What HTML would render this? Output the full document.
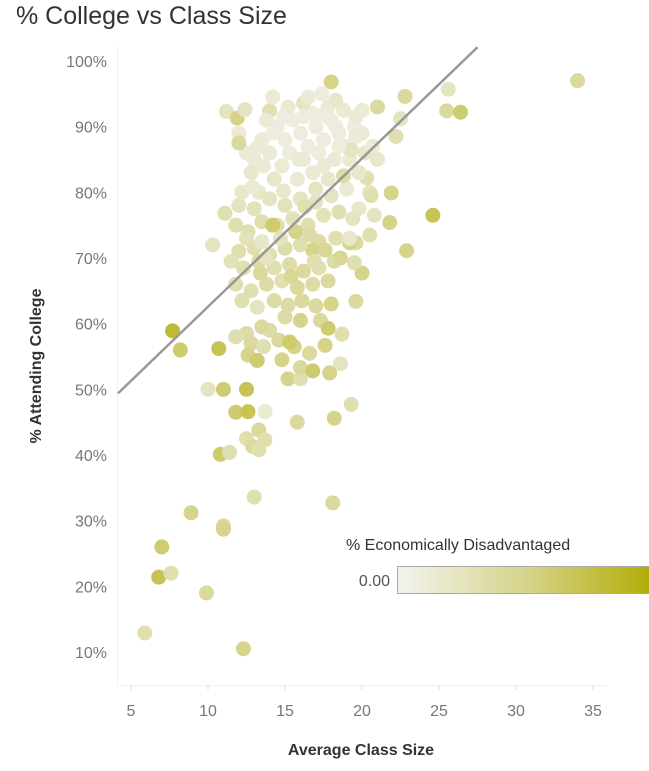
<!DOCTYPE html>
<html><head><meta charset="utf-8"><style>
body{margin:0;background:#fff;width:649px;height:766px;overflow:hidden;font-family:"Liberation Sans",sans-serif}
</style></head><body>
<svg id="chart" width="649" height="766" xmlns="http://www.w3.org/2000/svg">
<defs><linearGradient id="grad" x1="0" x2="1" y1="0" y2="0"><stop offset="0" stop-color="#f2f2ee"/><stop offset="0.5" stop-color="#d6d48a"/><stop offset="1" stop-color="#b0ab00"/></linearGradient></defs>
<text x="16" y="24" font-size="25" fill="#333">% College vs Class Size</text>
<line x1="117.5" y1="47" x2="117.5" y2="685" stroke="#eee" stroke-width="1"/>
<line x1="117" y1="685.5" x2="606" y2="685.5" stroke="#eee" stroke-width="1"/>
<g id="yticks"></g><g id="xticks"></g><g id="dots"></g><g id="trend"></g>
<text transform="translate(41,366) rotate(-90)" text-anchor="middle" font-size="16" font-weight="bold" fill="#333">% Attending College</text>
<text x="361" y="755" text-anchor="middle" font-size="16" font-weight="bold" fill="#333">Average Class Size</text>
<text x="346" y="550" font-size="16" fill="#333">% Economically Disadvantaged</text>
<text x="390" y="586" text-anchor="end" font-size="16" fill="#555">0.00</text>
<rect x="397.5" y="566.5" width="260" height="27" fill="url(#grad)" stroke="#aaa"/>
</svg>
<script>
const xTicks=[5,10,15,20,25,30,35];
const yTicks=[10,20,30,40,50,60,70,80,90,100];
const xs=[34.0,25.6,25.5,26.4,22.8,21,22.2,22.5,21.9,21.8,24.6,22.9,20.3,19.6,20.0,19.5,19.6,18.7,18.6,19.3,18.2,18.1,13.0,11.0,11.0,8.9,7.0,6.8,7.6,9.9,5.9,12.3,7.7,8.2,10.7,10.0,11.0,12.5,11.8,12.6,13.7,10.8,11.4,12.5,12.9,13.3,13.3,13.7,15.8,10.3,11.1,11.2,11.9,12.4,14.0,18.0,16.2,
14.5,15,15.5,16,16.5,17,17.5,18,18.5,19,19.5,14,14.8,15.3,16.2,17.2,18.2,19.2,13.5,13,12.8,16.8,17.8,16.5,18.8,19.6,20,20.2,19.8,15.8,16.8,17.8,14.3,13.3,12.2,12.5,12.0,13.8,15.2,14.2,17.4,12.0,13.2,20.5,20.8,19.8,19,18,17,16,15,14,13,12,11.8,12.6,13.5,14.5,15.5,16.5,17.5,18.5,19.4,20.5,19.2,18.3,17.2,16.8,16,15,14,13,12,11.5,12.3,13.3,14.3,15.3,16.2,17.2,18.2,17.8,16.8,15.8,14.8,13.8,12.8,11.8,12.2,13.2,14.3,15.2,16.1,17.0,18.0,17.3,16.0,15.0,14.0,13.5,12.5,11.8,12.8,13.6,14.6,15.6,16.6,17.6,17.8,12.6,13.2,14.8,15.2,16.0,16.0,15.3,16.8,17.9,13.5,14.7,15.7,14.2,12.5,16.3,17.0,18.8,19.3,20.6,19.2,18.6,17.6,16.6,13.8,13.4,15.4,16.9,14.9,12.9,13.6,15.9,17.5,18.5,19.6,20.7,21.0,20.0,18.3,14.9,16.2,17.4,14.2,18.3];
const ys=[97.0,95.7,92.4,92.2,94.6,93.0,88.5,91.2,79.9,75.4,76.5,71.1,82.2,72.3,67.7,69.3,63.4,58.4,53.9,47.7,45.6,32.7,33.6,29.2,28.7,31.2,26.0,21.4,22.0,19.0,12.9,10.5,58.9,56.0,56.2,50.0,50.0,50.0,46.5,46.6,46.6,40.1,40.4,42.5,41.3,40.8,43.8,42.3,45.0,72.0,76.8,92.3,91.3,92.6,92.4,96.8,93.6,
90,88,91,89,87,90,88,91,89,87,90,86,84,86,85,86,85,85,88,85,83,92,93,94.5,92.5,91.5,89,86,83,82,83,82,82,80,80,86,89,91,93,94.5,95,87.5,86.8,80,76.5,77.5,80.5,79.5,78.5,79,78,79,77.5,78,75,74,75.5,75,76,75,76.5,77,76,73.5,72.3,73,72.5,71.2,72,71.5,70.5,71.5,71,69.5,68.5,69.5,68.5,69,68,68.5,69.5,66.5,66,65.5,66.5,66,65,66,63.5,62.5,63.5,62.8,63.5,62.7,63.0,60.5,60.5,61,59,59.5,58.5,58,57,56.5,57.5,56.5,55.5,56.7,59.3,55.2,54.4,54.5,51.6,51.6,53.3,57.2,52.8,52.5,72.5,73,74,75,73,77.8,80.5,82.5,86.5,79.5,73,70.0,71.2,73.5,70.0,67.7,67.2,69.5,80.2,80.8,84,85,84,87,88.5,87,85,92.5,94,91.5,91.5,91.7,89,90];
const es=[0.4,0.2,0.4,0.6,0.4,0.4,0.3,0.2,0.5,0.5,0.7,0.5,0.3,0.4,0.5,0.3,0.4,0.3,0.2,0.3,0.5,0.4,0.3,0.4,0.5,0.5,0.6,0.7,0.3,0.4,0.3,0.5,0.8,0.6,0.7,0.2,0.6,0.7,0.6,0.7,0.1,0.6,0.3,0.3,0.4,0.3,0.4,0.3,0.4,0.2,0.3,0.2,0.5,0.2,0.3,0.5,0.2,
0.05,0.05,0.05,0.05,0.05,0.05,0.05,0.05,0.05,0.1,0.05,0.1,0.1,0.05,0.1,0.05,0.1,0.1,0.1,0.1,0.15,0.05,0.1,0.1,0.1,0.1,0.1,0.15,0.15,0.1,0.1,0.15,0.15,0.15,0.15,0.1,0.1,0.1,0.1,0.1,0.05,0.4,0.1,0.2,0.2,0.15,0.1,0.2,0.2,0.2,0.25,0.2,0.25,0.2,0.3,0.3,0.3,0.3,0.25,0.3,0.25,0.3,0.2,0.3,0.5,0.3,0.35,0.5,0.3,0.35,0.3,0.3,0.3,0.25,0.3,0.35,0.3,0.35,0.4,0.3,0.35,0.4,0.35,0.4,0.3,0.35,0.3,0.3,0.3,0.2,0.35,0.35,0.4,0.4,0.5,0.4,0.5,0.35,0.35,0.4,0.35,0.3,0.4,0.3,0.4,0.5,0.4,0.5,0.6,0.5,0.6,0.5,0.5,0.3,0.4,0.6,0.6,0.5,0.15,0.2,0.5,0.6,0.25,0.3,0.2,0.35,0.2,0.3,0.15,0.45,0.45,0.35,0.2,0.4,0.45,0.3,0.15,0.1,0.1,0.1,0.1,0.05,0.1,0.1,0.15,0.1,0.15,0.05,0.05,0.05,0.05,0.05];
const trendA=40.0, trendB=2.258;
const NS="http://www.w3.org/2000/svg";
const sx=v=>131+(v-5)*15.4;
const sy=v=>652-(v-10)*6.567;
function mix(a,b,t){return a.map((c,i)=>Math.round(c+(b[i]-c)*t));}
function color(e){const s0=[239,239,232],s1=[214,212,138],s2=[176,171,0];const c=e<0.5?mix(s0,s1,e/0.5):mix(s1,s2,(e-0.5)/0.5);return `rgb(${c[0]},${c[1]},${c[2]})`;}
const yt=document.getElementById('yticks');
yTicks.forEach(v=>{const t=document.createElementNS(NS,'text');


t.setAttribute('x',107);t.setAttribute('y',sy(v)+6);t.setAttribute('text-anchor','end');t.setAttribute('font-size','16');t.setAttribute('fill','#777');t.textContent=v+'%';yt.appendChild(t);});
const xt=document.getElementById('xticks');
xTicks.forEach(v=>{const l=document.createElementNS(NS,'line');


l.setAttribute('x1',sx(v));l.setAttribute('x2',sx(v));l.setAttribute('y1',685);l.setAttribute('y2',690);l.setAttribute('stroke','#ddd');xt.appendChild(l);
const t=document.createElementNS(NS,'text');


t.setAttribute('x',sx(v));t.setAttribute('y',716);t.setAttribute('text-anchor','middle');t.setAttribute('font-size','16');t.setAttribute('fill','#777');t.textContent=v;xt.appendChild(t);});
const dg=document.getElementById('dots');
xs.forEach((x,i)=>{const c=document.createElementNS(NS,'circle');


c.setAttribute('cx',sx(x));c.setAttribute('cy',sy(ys[i]));c.setAttribute('r',7.5);c.setAttribute('fill',color(es[i]));dg.appendChild(c);});
const x0=(118-131)/15.4+5, x1=(102.1-trendA)/trendB;
const ln=document.createElementNS(NS,'line');


ln.setAttribute('x1',sx(x0));ln.setAttribute('y1',sy(trendA+trendB*x0));ln.setAttribute('x2',sx(x1));ln.setAttribute('y2',sy(trendA+trendB*x1));ln.setAttribute('stroke','#999');ln.setAttribute('stroke-width','2.5');
document.getElementById('trend').appendChild(ln);
</script>
</body></html>
